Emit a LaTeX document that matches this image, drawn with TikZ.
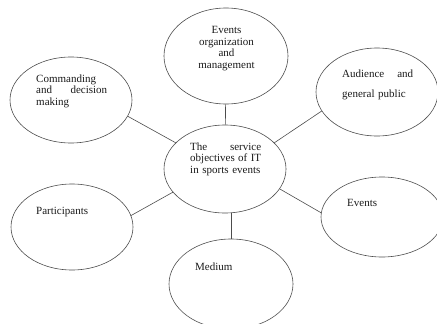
\documentclass[tikz,border=0pt]{standalone}
\usepackage{fontspec}
\setmainfont{Liberation Serif}
\usetikzlibrary{shapes.geometric}
\begin{document}
\begin{tikzpicture}[x=1pt,y=-1pt,
    bubble/.style={draw=black!70,line width=0.6pt,ellipse,inner sep=0pt},
    words/.style={text width=71pt,align=left,inner sep=0pt,anchor=base west,
        text=black!90,font=\fontsize{11}{11.5}\selectfont},
    link/.style={draw=black!70,line width=0.6pt}]
    \clip (0,0) rectangle (437,324);
    % ellipses
    \node[bubble,minimum width=124pt,minimum height=96pt] (org) at (226,56) {};
    \node[bubble,minimum width=122pt,minimum height=86pt] (cmd) at (71,100) {};
    \node[bubble,minimum width=122pt,minimum height=88pt] (aud) at (377,92) {};
    \node[bubble,minimum width=122pt,minimum height=88pt] (obj) at (225,169) {};
    \node[bubble,minimum width=122pt,minimum height=86pt] (par) at (72,227) {};
    \node[bubble,minimum width=122pt,minimum height=80pt] (evt) at (382,217) {};
    \node[bubble,minimum width=124pt,minimum height=90pt] (med) at (231,284) {};
    % texts
    \node[words,align=center,anchor=base] (org-txt) at (226.5,34) {Events\\organization\\and\\management};
    \node[words] (cmd-txt) at (36,82) {Commanding\\and\hfill decision\\making};
    \node[words,font=\fontsize{11}{20}\selectfont] (aud-txt) at (342,77.5) {Audience\hfill and\\general public};
    \node[words] (obj-txt) at (190,150) {The\hfill service\\objectives\hfill of\hfill IT\\in sports events};
    \node[words] (par-txt) at (36,214.5) {Participants};
    \node[words] (evt-txt) at (347,206.5) {Events};
    \node[words] (med-txt) at (195,270.5) {Medium};
    % links
    \draw[link] (org) -- (obj);
    \draw[link] (cmd.344) -- (obj.152);
    \draw[link] (aud.199) -- (obj.28);
    \draw[link] (par.11) -- (obj.204);
    \draw[link] (evt.176) -- (obj.340);
    \draw[link] (med.north) -- (med.north |- obj.south);
\end{tikzpicture}
\end{document}
